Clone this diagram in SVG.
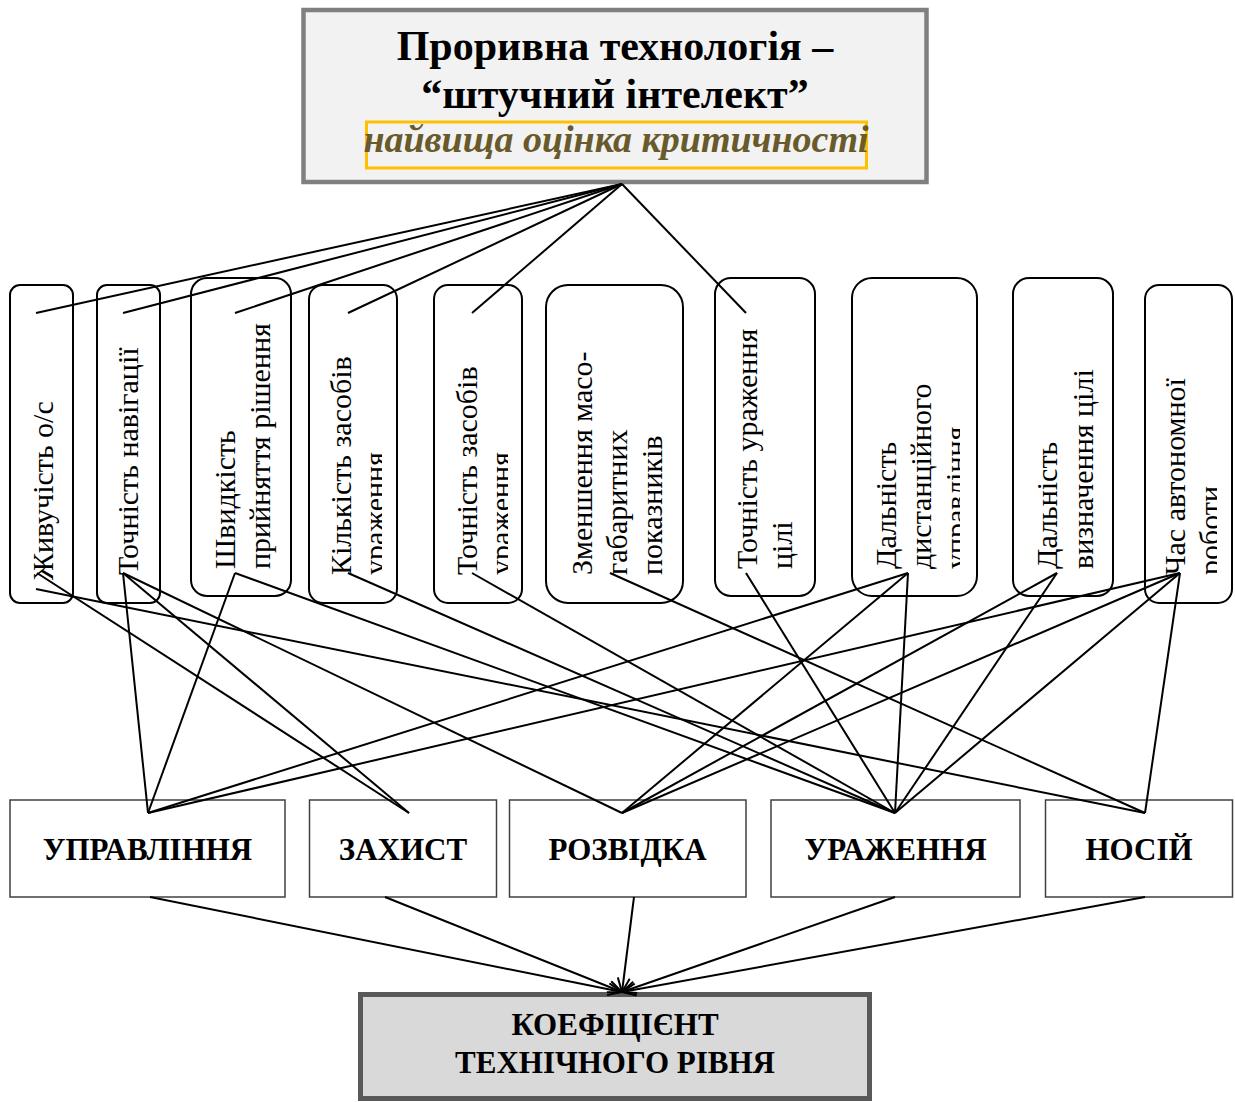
<svg xmlns="http://www.w3.org/2000/svg" width="1235" height="1102" viewBox="0 0 1235 1102">
  <style>
    .serif { font-family: "Liberation Serif", "Times New Roman", serif; }
    .title { font-size: 42px; font-weight: bold; fill: #000; text-anchor: middle; }
    .crit { font-size: 38px; font-weight: bold; font-style: italic; fill: #685a2a; text-anchor: middle; }
    .param { fill: #fff; stroke: #000; stroke-width: 2; }
    .ptext { font-size: 30px; fill: #000; }
    .group { fill: #fff; stroke: #404040; stroke-width: 1.5; }
    .gtext { font-size: 31px; font-weight: bold; fill: #000; text-anchor: middle; }
    .link { stroke: #000; stroke-width: 2; fill: none; }
  </style>
  <defs>
    <marker id="arrow" markerUnits="userSpaceOnUse" markerWidth="16" markerHeight="14" viewBox="0 0 16 14" refX="15" refY="7" orient="auto">
      <path d="M1,1 L15,7 L1,13" fill="none" stroke="#000" stroke-width="2"/>
    </marker>
    <clipPath id="clip4"><rect x="300" y="270" width="82" height="340"/></clipPath>
    <clipPath id="clip5"><rect x="430" y="270" width="78" height="340"/></clipPath>
    <clipPath id="clip8"><rect x="845" y="270" width="115" height="340"/></clipPath>
    <clipPath id="clip10"><rect x="1140" y="270" width="77" height="340"/></clipPath>
  </defs>

  <rect width="1235" height="1102" fill="#fff"/>

  <!-- top node -->
  <g id="node-ai">
    <rect x="303.5" y="10" width="623" height="172" fill="#f2f2f2" stroke="#808080" stroke-width="4.5"/>
    <text class="serif title" x="615" y="60">Проривна технологія –</text>
    <text class="serif title" x="615" y="108">“штучний інтелект”</text>
    <rect x="366.5" y="122" width="500" height="46" fill="none" stroke="#ffc000" stroke-width="3"/>
    <text class="serif crit" x="616" y="152">найвища оцінка критичності</text>
  </g>

  <!-- parameter nodes -->
  <g id="node-survivability">
    <rect class="param" x="10" y="285" width="63" height="318" rx="10"/>
    <text class="serif ptext" transform="translate(53,580) rotate(-90)">Живучість о/с</text>
  </g>
  <g id="node-navigation">
    <rect class="param" x="97" y="285" width="63" height="318" rx="10"/>
    <text class="serif ptext" transform="translate(138,575) rotate(-90)">Точність навігації</text>
  </g>
  <g id="node-decision">
    <rect class="param" x="191" y="278" width="100" height="318" rx="16"/>
    <text class="serif ptext" transform="translate(235,569) rotate(-90)"><tspan x="0" y="0">Швидкість</tspan><tspan x="0" y="35">прийняття рішення</tspan></text>
  </g>
  <g id="node-quantity">
    <rect class="param" x="309" y="285" width="88" height="318" rx="14"/>
    <g clip-path="url(#clip4)">
      <text class="serif ptext" transform="translate(351,575) rotate(-90)"><tspan x="0" y="0">Кількість засобів</tspan><tspan x="0" y="34">ураження</tspan></text>
    </g>
  </g>
  <g id="node-weapon-accuracy">
    <rect class="param" x="434" y="285" width="88" height="318" rx="14"/>
    <g clip-path="url(#clip5)">
      <text class="serif ptext" transform="translate(477,575) rotate(-90)"><tspan x="0" y="0">Точність засобів</tspan><tspan x="0" y="34">ураження</tspan></text>
    </g>
  </g>
  <g id="node-size">
    <rect class="param" x="546" y="285" width="137" height="318" rx="22"/>
    <text class="serif ptext" transform="translate(592,575) rotate(-90)"><tspan x="0" y="0">Зменшення масо-</tspan><tspan x="0" y="35">габаритних</tspan><tspan x="0" y="70">показників</tspan></text>
  </g>
  <g id="node-target-accuracy">
    <rect class="param" x="715" y="278" width="100" height="318" rx="16"/>
    <text class="serif ptext" transform="translate(757,569) rotate(-90)"><tspan x="0" y="0">Точність ураження</tspan><tspan x="0" y="35">цілі</tspan></text>
  </g>
  <g id="node-remote-range">
    <rect class="param" x="852" y="278" width="125" height="318" rx="20"/>
    <g clip-path="url(#clip8)">
      <text class="serif ptext" transform="translate(896,569) rotate(-90)"><tspan x="0" y="0">Дальність</tspan><tspan x="0" y="35">дистанційного</tspan><tspan x="0" y="70">управління</tspan></text>
    </g>
  </g>
  <g id="node-detection-range">
    <rect class="param" x="1013" y="278" width="100" height="318" rx="16"/>
    <text class="serif ptext" transform="translate(1057,569) rotate(-90)"><tspan x="0" y="0">Дальність</tspan><tspan x="0" y="36">визначення цілі</tspan></text>
  </g>
  <g id="node-autonomy">
    <rect class="param" x="1145" y="285" width="87" height="318" rx="14"/>
    <g clip-path="url(#clip10)">
      <text class="serif ptext" transform="translate(1185,575) rotate(-90)"><tspan x="0" y="0">Час автономної</tspan><tspan x="0" y="35">роботи</tspan></text>
    </g>
  </g>

  <!-- subsystem nodes -->
  <g id="node-control">
    <rect class="group" x="10" y="800" width="275" height="97"/>
    <text class="serif gtext" x="147.5" y="860">УПРАВЛІННЯ</text>
  </g>
  <g id="node-protection">
    <rect class="group" x="309.5" y="800" width="187" height="97"/>
    <text class="serif gtext" x="403" y="860">ЗАХИСТ</text>
  </g>
  <g id="node-reconnaissance">
    <rect class="group" x="509.5" y="800" width="236.5" height="97"/>
    <text class="serif gtext" x="627.5" y="860">РОЗВІДКА</text>
  </g>
  <g id="node-strike">
    <rect class="group" x="771" y="800" width="249" height="97"/>
    <text class="serif gtext" x="895.5" y="860">УРАЖЕННЯ</text>
  </g>
  <g id="node-carrier">
    <rect class="group" x="1045.5" y="800" width="187" height="97"/>
    <text class="serif gtext" x="1139" y="860">НОСІЙ</text>
  </g>

  <!-- result node -->
  <g id="node-coefficient">
    <rect x="360.5" y="994.5" width="509" height="104" fill="#d9d9d9" stroke="#595959" stroke-width="5"/>
    <text class="serif gtext" x="615" y="1035">КОЕФІЦІЄНТ</text>
    <text class="serif gtext" x="615" y="1073">ТЕХНІЧНОГО РІВНЯ</text>
  </g>

  <!-- connectors, drawn over the nodes -->
  <g id="connectors" class="link">
    <!-- top node to parameters -->
    <line x1="622" y1="184" x2="36" y2="313"/>
    <line x1="622" y1="184" x2="123" y2="313"/>
    <line x1="622" y1="184" x2="235" y2="313"/>
    <line x1="622" y1="184" x2="348" y2="313"/>
    <line x1="622" y1="184" x2="472" y2="313"/>
    <line x1="622" y1="184" x2="746" y2="313"/>
    <!-- parameters to subsystems -->
    <line x1="37" y1="573" x2="409" y2="813"/>
    <line x1="36" y1="589" x2="1145" y2="813"/>
    <line x1="123" y1="573" x2="148" y2="813"/>
    <line x1="123" y1="573" x2="409" y2="813"/>
    <line x1="123" y1="573" x2="622" y2="813"/>
    <line x1="235" y1="573" x2="148" y2="813"/>
    <line x1="235" y1="573" x2="895" y2="813"/>
    <line x1="348" y1="573" x2="895" y2="813"/>
    <line x1="472" y1="573" x2="895" y2="813"/>
    <line x1="610" y1="573" x2="1145" y2="813"/>
    <line x1="746" y1="573" x2="895" y2="813"/>
    <line x1="908" y1="573" x2="148" y2="813"/>
    <line x1="908" y1="573" x2="622" y2="813"/>
    <line x1="908" y1="573" x2="895" y2="813"/>
    <line x1="1057" y1="573" x2="622" y2="813"/>
    <line x1="1057" y1="573" x2="895" y2="813"/>
    <line x1="1180" y1="573" x2="148" y2="813"/>
    <line x1="1180" y1="573" x2="622" y2="813"/>
    <line x1="1180" y1="573" x2="895" y2="813"/>
    <line x1="1180" y1="573" x2="1145" y2="813"/>
    <!-- subsystems to coefficient -->
    <line x1="150" y1="897" x2="622" y2="992" marker-end="url(#arrow)"/>
    <line x1="385" y1="897" x2="622" y2="992" marker-end="url(#arrow)"/>
    <line x1="634" y1="897" x2="622" y2="992" marker-end="url(#arrow)"/>
    <line x1="895" y1="897" x2="622" y2="992" marker-end="url(#arrow)"/>
    <line x1="1145" y1="897" x2="622" y2="992" marker-end="url(#arrow)"/>
  </g>
</svg>
